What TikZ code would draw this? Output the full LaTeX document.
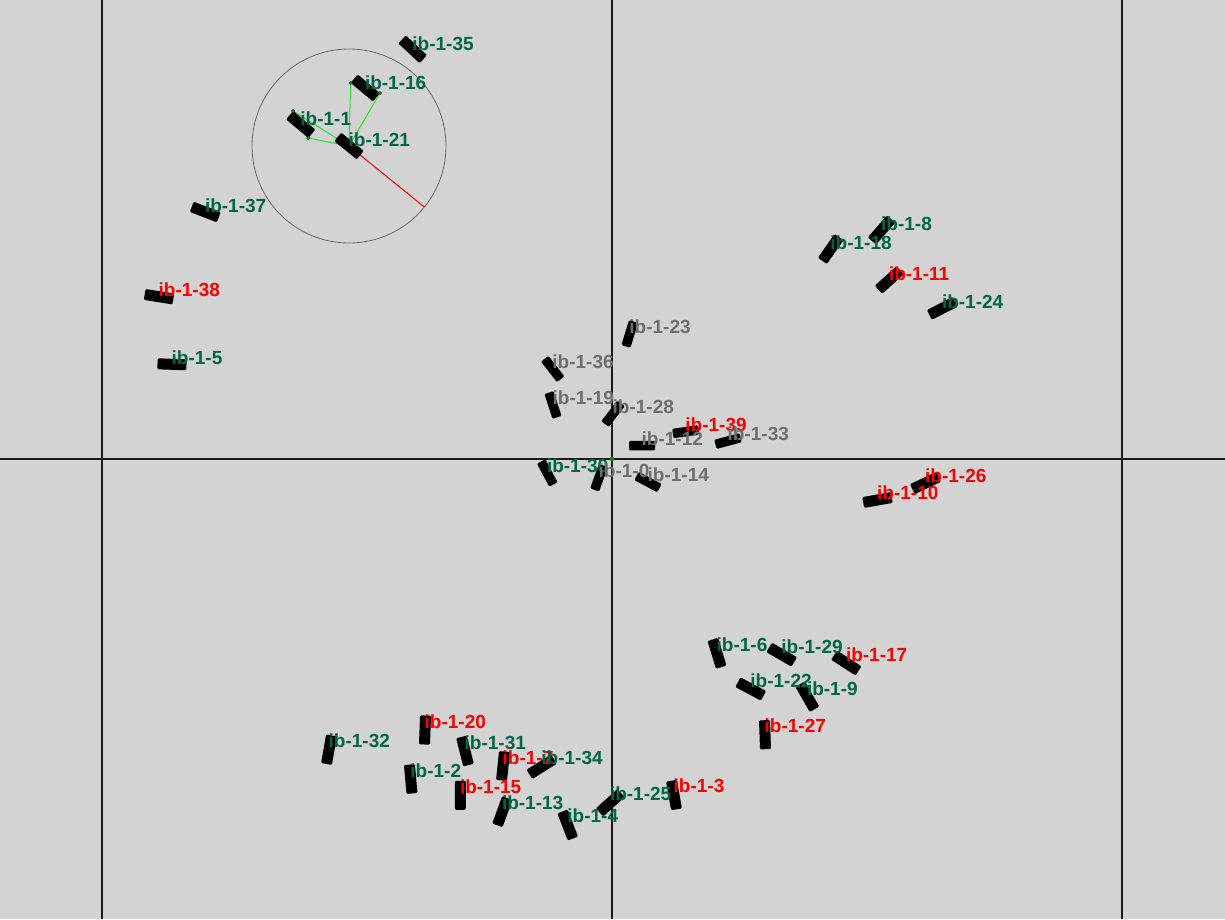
\documentclass[tikz,border=0pt]{standalone}
\usepackage{fontspec}
\setmainfont{Liberation Sans}
\usetikzlibrary{calc}
\definecolor{bgc}{HTML}{D3D3D3}
\definecolor{tg}{HTML}{00664A}
\definecolor{tr}{HTML}{FF0000}
\definecolor{tk}{HTML}{6E6E6E}
\definecolor{limeline}{RGB}{40,225,40}
\definecolor{dotg}{RGB}{20,120,20}
\pgfdeclarelayer{bg}
\pgfsetlayers{bg,main}
\tikzset{
  vehbox/.style={fill=black, rounded corners=1.2pt, inner sep=0pt, outer sep=0pt},
  vlabel/.style={font=\bfseries\fontsize{19}{21}\selectfont, anchor=base west, inner sep=0pt},
  axisline/.style={line width=1.8pt, draw=black!90},
  sensor/.style={draw=black!60, line width=0.8pt},
  heading/.style={draw=red, line width=1pt},
  sight/.style={draw=limeline, line width=1pt},
  cornerdot/.style={fill=dotg, draw=dotg!70!black, line width=0.3pt},
}
% name / x / y / tikz rotation / width / height / colour
\def\vehlist{%
35/412.7/49.3/-43/29/11/tg,
16/365.3/88/-40/29/11/tg,
1/300.7/124.5/-40/29/11/tg,
21/349/146/-39/29/11/tg,
37/205.3/212/-21/29/11/tg,
38/159/296.7/-9/29/11/tr,
5/172/364.3/-2/29/11/tg,
8/881.5/230/49/29/11/tg,
18/830.7/249/55/29/11/tg,
11/889.3/280/42/29/11/tr,
24/942.3/308.3/27/29/11/tg,
23/629.7/334/73/26/9.5/tk,
36/552.7/369/-52/26/9.5/tk,
19/553/405/-72/26/9.5/tk,
28/613/413.7/52/26/9.5/tk,
39/685.7/431.7/8/26/9.5/tr,
12/642/445.7/0/26/9.5/tk,
33/728/441/15/26/9.5/tk,
30/547.3/473/-62/26/9.5/tg,
0/599/477.7/70/26/9.5/tk,
14/648/482/-28/26/9.5/tk,
26/925.5/483/25/29/11/tr,
10/877.5/500/10/29/11/tr,
6/717/653.3/-73/29/11/tg,
29/781.7/654.7/-30/29/11/tg,
17/846.3/663/-33/29/11/tr,
22/750.7/689/-28/29/11/tg,
9/807.3/696.7/-60/29/11/tg,
27/765/734.7/-88/29/11/tr,
32/329/749.7/80/29/11/tg,
20/425/730/88/29/11/tr,
31/465/751/-76/29/11/tg,
2/410.7/779/-85/29/11/tg,
7/503/766/84/29/11/tr,
34/541.7/766.7/32/29/11/tg,
15/460.3/795.3/-90/29/11/tr,
13/502.3/811.7/70/29/11/tg,
4/567.7/825/-69/29/11/tg,
25/610.3/802.7/42/29/11/tg,
3/674/795/-80/29/11/tr}
\begin{document}
\begin{tikzpicture}[x=1pt,y=-1pt]
\useasboundingbox (0,0) rectangle (1225,919);
\begin{pgfonlayer}{bg}
  \fill[bgc] (0,0) rectangle (1225,919);
  \draw[axisline] (102,0) -- (102,919);
  \draw[axisline] (612,0) -- (612,919);
  \draw[axisline] (1122,0) -- (1122,919);
  \draw[axisline] (0,459) -- (1225,459);
\end{pgfonlayer}
\foreach \n/\x/\y/\r/\w/\h/\c in \vehlist {
  \node[vehbox, minimum width=\w pt, minimum height=\h pt, rotate=\r] (v\n) at (\x,\y) {};
}
\begin{pgfonlayer}{bg}
  \draw[sensor] (v21.center) circle[radius=97pt];
  \draw[heading] (v21.center) -- ($(v21.center)!97pt!(v21.east)$);
  \draw[sight] (v21.center) -- (v16.south west);
  \draw[sight] (v21.center) -- (v16.north east);
  \draw[sight] (v21.center) -- (v1.north west);
  \draw[sight] (v21.center) -- (v1.south east);
\end{pgfonlayer}
\fill[cornerdot] (v16.south west) circle[radius=1.8pt];
\fill[cornerdot] (v16.north east) circle[radius=1.8pt];
\fill[cornerdot] (v1.north west) circle[radius=1.8pt];
\fill[cornerdot] (v1.south east) circle[radius=1.8pt];
\coordinate (origin) at (612,459);
\fill[green!55!black] (origin) circle[radius=2.2pt];
\foreach \n/\x/\y/\r/\w/\h/\c in \vehlist {
  \pgfmathsetmacro\dy{-1+(\y-100)/230}
  \node[vlabel, text=\c] (l\n) at ([yshift=\dy pt, xshift=-0.5pt]v\n.center) {ib-1-\n};
}
\end{tikzpicture}
\end{document}
